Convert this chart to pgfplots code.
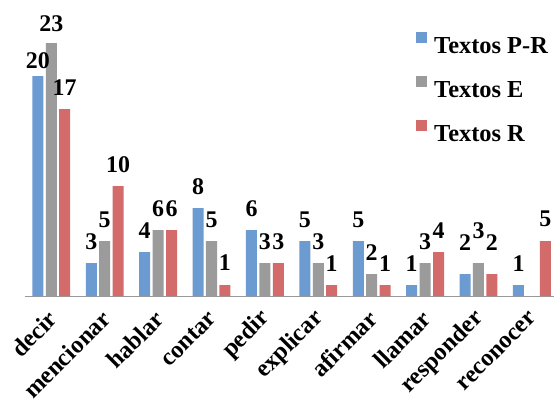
\documentclass[border=0pt]{standalone}
\usepackage{pgfplots}
\pgfplotsset{compat=1.18}
\usepackage{pgfplotstable}
\usepackage{fontspec}
\setmainfont{Liberation Serif}
\definecolor{cPR}{RGB}{108,155,210}
\definecolor{cE}{RGB}{155,155,155}
\definecolor{cR}{RGB}{210,107,106}
\pgfplotstableread{
x y dy
0 20 8
1 3 14
2 4 14
3 8 14
4 6 14
5 5 14
6 5 14
7 1 14
8 2 24
9 1 14
}\tpr
\pgfplotstableread{
x y dy
0 23 12
1 5 14
2 6 14
3 5 14
4 3 14
5 3 14
6 2 14
7 3 14
8 3 25
}\te
\pgfplotstableread{
x y dy
0 17 14
1 10 14
2 6 14
3 1 15
4 3 14
5 1 14
6 1 14
7 4 14
8 2 24
9 5 15
}\tr
\begin{document}
\begin{tikzpicture}
\useasboundingbox (0,0) rectangle (554bp,407bp);
\begin{axis}[
  at={(24.6bp,111bp)}, anchor=south west,
  width=534bp, height=253bp, scale only axis,
  xmin=-0.5, xmax=9.5, ymin=0, ymax=23,
  ybar=2.4bp, bar width=11bp,
  axis x line*=bottom, axis y line=none,
  x axis line style={draw=black!40, line width=1bp},
  xtick={0,...,9},
  xticklabels={decir,mencionar,hablar,contar,pedir,explicar,afirmar,llamar,responder,reconocer},
  major tick length=0pt,
  xticklabel style={font=\bfseries\fontsize{24.5}{28}\selectfont, xshift=1.5bp, yshift=-19bp, rotate=45, anchor=east, inner sep=0pt},
  clip=false,
  nodes near coords,
  visualization depends on={\thisrow{dy} \as \dy},
  nodes near coords style={font=\bfseries\fontsize{24}{28}\selectfont, anchor=base, inner sep=0pt, yshift=\dy pt},
  /pgf/number format/assume math mode=true,
  legend cell align=left,
  legend image code/.code={\fill[#1] (0bp,4bp) rectangle (11bp,15bp);},
  legend style={at={(0.733,1.044)}, anchor=north west, draw=none, fill=none, inner sep=0pt,
    font=\bfseries\fontsize{24.5}{28}\selectfont, row sep=19bp,
    nodes={inner sep=0pt, text height=16bp, text depth=4bp},
    /tikz/every odd column/.append style={column sep=7bp}},
]
\addplot[fill=cPR, draw=none] table[x=x,y=y] {\tpr};
\addlegendentry{Textos P-R}
\addplot[fill=cE, draw=none] table[x=x,y=y] {\te};
\addlegendentry{Textos E}
\addplot[fill=cR, draw=none] table[x=x,y=y] {\tr};
\addlegendentry{Textos R}
\end{axis}
\end{tikzpicture}
\end{document}
